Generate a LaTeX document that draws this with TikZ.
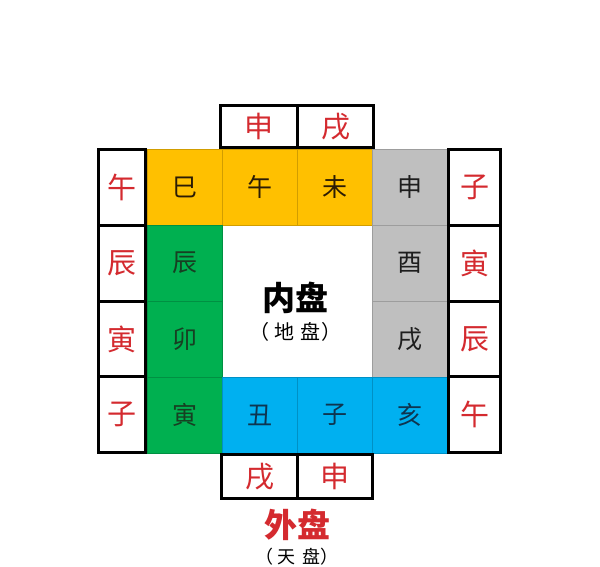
\documentclass[tikz,border=0pt]{standalone}
\usepackage{fontspec}
\setmainfont{Noto Sans CJK SC}
\definecolor{cOrange}{HTML}{FFC000}
\definecolor{cGreen}{HTML}{00B050}
\definecolor{cGray}{HTML}{BFBFBF}
\definecolor{cBlue}{HTML}{00B0F0}
\definecolor{cRed}{HTML}{D42A2F}
\definecolor{tOrange}{HTML}{2B1C05}
\definecolor{tGreen}{HTML}{173F22}
\definecolor{tGray}{HTML}{1E1E1E}
\definecolor{tBlue}{HTML}{0E3550}
\tikzset{
  cellbox/.style={draw=#1!82!black, fill=#1, line width=0.6pt, minimum width=75pt, minimum height=76pt, inner sep=0pt, font=\fontsize{25}{25}\selectfont},
  outbox/.style={draw=black, fill=white, line width=3pt, inner sep=0pt, text=cRed, font=\fontsize{29}{29}\selectfont},
  sidebox/.style={outbox, minimum height=76pt},
  lbox/.style={sidebox, minimum width=47pt},
  rbox/.style={sidebox, minimum width=52pt},
  tbox/.style={outbox, minimum height=42pt, minimum width=76.5pt},
  subtitle/.style={font=\fontsize{20}{20}\selectfont},
}
\newcommand{\paren}[1]{（\hspace{5pt}#1\hspace{1pt}）}
\begin{document}
\begin{tikzpicture}[x=1pt,y=-1pt]
\useasboundingbox[fill=white] (0,0) rectangle (600,567);
% inner cells
\node[cellbox=cOrange, text=tOrange] (si) at (184.5,187) {巳};
\node[cellbox=cOrange, text=tOrange] (wu) at (259.5,187) {午};
\node[cellbox=cOrange, text=tOrange] (wei) at (334.5,187) {未};
\node[cellbox=cGray, text=tGray] (shen) at (409.5,187) {申};
\node[cellbox=cGreen, text=tGreen] (chen) at (184.5,263) {辰};
\node[cellbox=cGray, text=tGray] (you) at (409.5,263) {酉};
\node[cellbox=cGreen, text=tGreen] (mao) at (184.5,339) {卯};
\node[cellbox=cGray, text=tGray] (xu) at (409.5,339) {戌};
\node[cellbox=cGreen, text=tGreen] (yin) at (184.5,415) {寅};
\node[cellbox=cBlue, text=tBlue] (chou) at (259.5,415) {丑};
\node[cellbox=cBlue, text=tBlue] (zi) at (334.5,415) {子};
\node[cellbox=cBlue, text=tBlue] (hai) at (409.5,415) {亥};
% centre
\node[font=\fontsize{33}{33}\selectfont\bfseries] (neipan) at (295,298) {内盘};
\node[subtitle] (dipan) at (295,332) {\paren{地\hspace{6pt}盘}};
% left outer boxes
\node[lbox] (l1) at (122,187.5) {午};
\node[lbox] (l2) at (122,263) {辰};
\node[lbox] (l3) at (122,339) {寅};
\node[lbox] (l4) at (122,414.5) {子};
% right outer boxes
\node[rbox] (r1) at (474.5,187.5) {子};
\node[rbox] (r2) at (474.5,263) {寅};
\node[rbox] (r3) at (474.5,339) {辰};
\node[rbox] (r4) at (474.5,414.5) {午};
% top outer boxes
\node[tbox] (t1) at (259,126.5) {申};
\node[tbox] (t2) at (335.5,126.5) {戌};
% bottom outer boxes
\node[tbox, minimum height=44pt] (b1) at (260,476.5) {戌};
\node[tbox, minimum height=44pt, minimum width=75pt] (b2) at (335,476.5) {申};
% labels
\node[font=\fontsize{33}{33}\selectfont\bfseries, text=cRed] (waipan) at (297,525) {外盘};
\node[subtitle, font=\fontsize{18}{18}\selectfont, anchor=north, inner sep=1pt] (tianpan) at (297,547) {\paren{天\hspace{6pt}盘}};
\end{tikzpicture}
\end{document}
